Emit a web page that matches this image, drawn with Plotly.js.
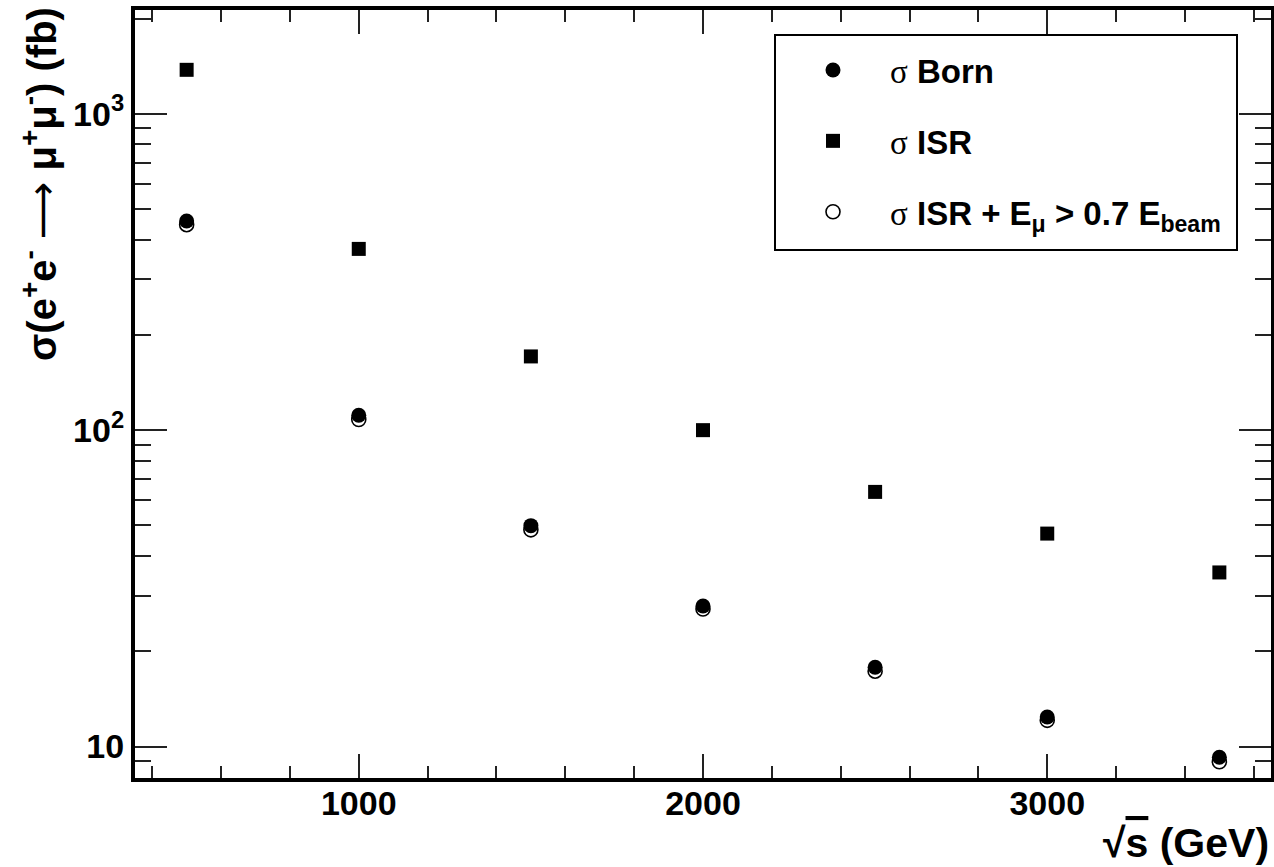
<!DOCTYPE html>
<html>
<head>
<meta charset="utf-8">
<script src="https://cdn.plot.ly/plotly-3.0.1.min.js"></script>
<style>html,body{margin:0;padding:0;background:#fff;}#chart{width:1274px;height:867px;}</style>
</head>
<body>
<div id="chart"></div>
<script>
// Centre-of-mass energy sqrt(s) in GeV
const energy = [500, 1000, 1500, 2000, 2500, 3000, 3500];
// Cross sections in fb
const sigmaBorn = [458, 111.5, 49.9, 27.8, 17.8, 12.4, 9.25];
const sigmaISR = [1377, 374, 171, 100, 63.8, 47.1, 35.5];
const sigmaISRcut = [446, 108, 48.4, 27.2, 17.3, 12.1, 8.95];

const yTickVals = [10, 100, 1000];
const yTickText = ['10', '10<sup>2</sup>', '10<sup>3</sup>'];
const yMinorVals = [9, 20, 30, 40, 50, 60, 70, 80, 90, 200, 300, 400, 500, 600, 700, 800, 900, 2000];
const xTickVals = [1000, 2000, 3000];
const xMinorVals = [400, 600, 800, 1200, 1400, 1600, 1800, 2200, 2400, 2600, 2800, 3200, 3400, 3600];

const SIG = "<span style=\"font-family:'Liberation Serif';font-weight:normal\">σ</span>";
const legendNames = [
  SIG + " Born",
  SIG + " ISR",
  SIG + " ISR + E<sub>μ</sub> &gt; 0.7 E<sub>beam</sub>"
];

const FONT = 'Liberation Sans, Arial, sans-serif';

const traces = [
  {
    x: energy, y: sigmaISRcut, type: 'scatter', mode: 'markers', name: legendNames[2],
    legendrank: 3, legendgroup: 'c',
    marker: {symbol: 'circle-open', size: 14, color: '#000', line: {width: 1.6, color: '#000'}}
  },
  {
    x: energy, y: sigmaISR, type: 'scatter', mode: 'markers', name: legendNames[1],
    legendrank: 2, legendgroup: 'b',
    marker: {symbol: 'square', size: 14, color: '#000'}
  },
  {
    x: energy, y: sigmaBorn, type: 'scatter', mode: 'markers', name: legendNames[0],
    legendrank: 1, legendgroup: 'a',
    marker: {symbol: 'circle', size: 15, color: '#000'}
  }
];

const layout = {
  width: 1274, height: 867,
  margin: {l: 135, r: 3, t: 10, b: 89},
  paper_bgcolor: '#fff', plot_bgcolor: '#fff',
  font: {family: FONT, color: '#000', size: 33, weight: 'bold'},
  showlegend: true,
  legend: {
    x: (776 - 135) / 1136, y: (778 - 42) / 768, xanchor: 'left', yanchor: 'top',
    bgcolor: 'rgba(0,0,0,0)', borderwidth: 0,
    font: {family: FONT, size: 33, weight: 'bold', color: '#000'},
    itemwidth: 104, traceorder: 'grouped', tracegroupgap: 25
  },
  xaxis: {
    type: 'linear', range: [350, 3650],
    showgrid: false, zeroline: false,
    showline: true, linewidth: 4, linecolor: '#000', mirror: 'ticks',
    ticks: 'inside', ticklen: 24, tickwidth: 2, tickcolor: '#222',
    tickmode: 'array', tickvals: xTickVals, ticktext: xTickVals.map(String),
    tickfont: {family: FONT, size: 34, weight: 'bold'},
    ticklabelstandoff: -8,
    minor: {tickmode: 'array', tickvals: xMinorVals, ticks: 'inside', ticklen: 12, tickwidth: 2, tickcolor: '#222', showgrid: false}
  },
  yaxis: {
    type: 'log', range: [0.9005, 3.328],
    showgrid: false, zeroline: false,
    showline: true, linewidth: 4, linecolor: '#000', mirror: 'ticks',
    ticks: 'inside', ticklen: 32, tickwidth: 2, tickcolor: '#222',
    tickmode: 'array', tickvals: yTickVals, ticktext: yTickText,
    tickfont: {family: FONT, size: 34, weight: 'bold'},
    minor: {tickmode: 'array', tickvals: yMinorVals, ticks: 'inside', ticklen: 16, tickwidth: 2, tickcolor: '#222', showgrid: false}
  },
  shapes: [
    {type: 'rect', xref: 'paper', yref: 'paper',
     x0: (775 - 135) / 1136, x1: (1237 - 135) / 1136,
     y0: (778 - 250) / 768, y1: (778 - 35) / 768,
     line: {color: '#000', width: 2}, fillcolor: 'rgba(255,255,255,1)', layer: 'below'}
  ],
  annotations: [
    {xref: 'paper', yref: 'paper', x: (40 - 135) / 1136, y: (778 - 5) / 768,
     xanchor: 'center', yanchor: 'top', textangle: -90, showarrow: false,
     text: "σ(e<sup>+</sup>e<sup>-</sup> <span style=\"font-family:'DejaVu Sans';font-weight:normal\">⟶</span> μ<sup>+</sup>μ<sup>-</sup>) (fb)",
     font: {family: FONT, size: 40, weight: 'bold', color: '#000'}},
    {xref: 'paper', yref: 'paper', x: 1, y: (778 - 843) / 768,
     xanchor: 'right', yanchor: 'middle', showarrow: false,
     text: '√<span style="text-decoration:overline">s</span> (GeV)',
     font: {family: FONT, size: 41, weight: 'bold', color: '#000'}}
  ]
};

Plotly.newPlot('chart', traces, layout, {displayModeBar: false, staticPlot: true});
</script>
</body>
</html>
